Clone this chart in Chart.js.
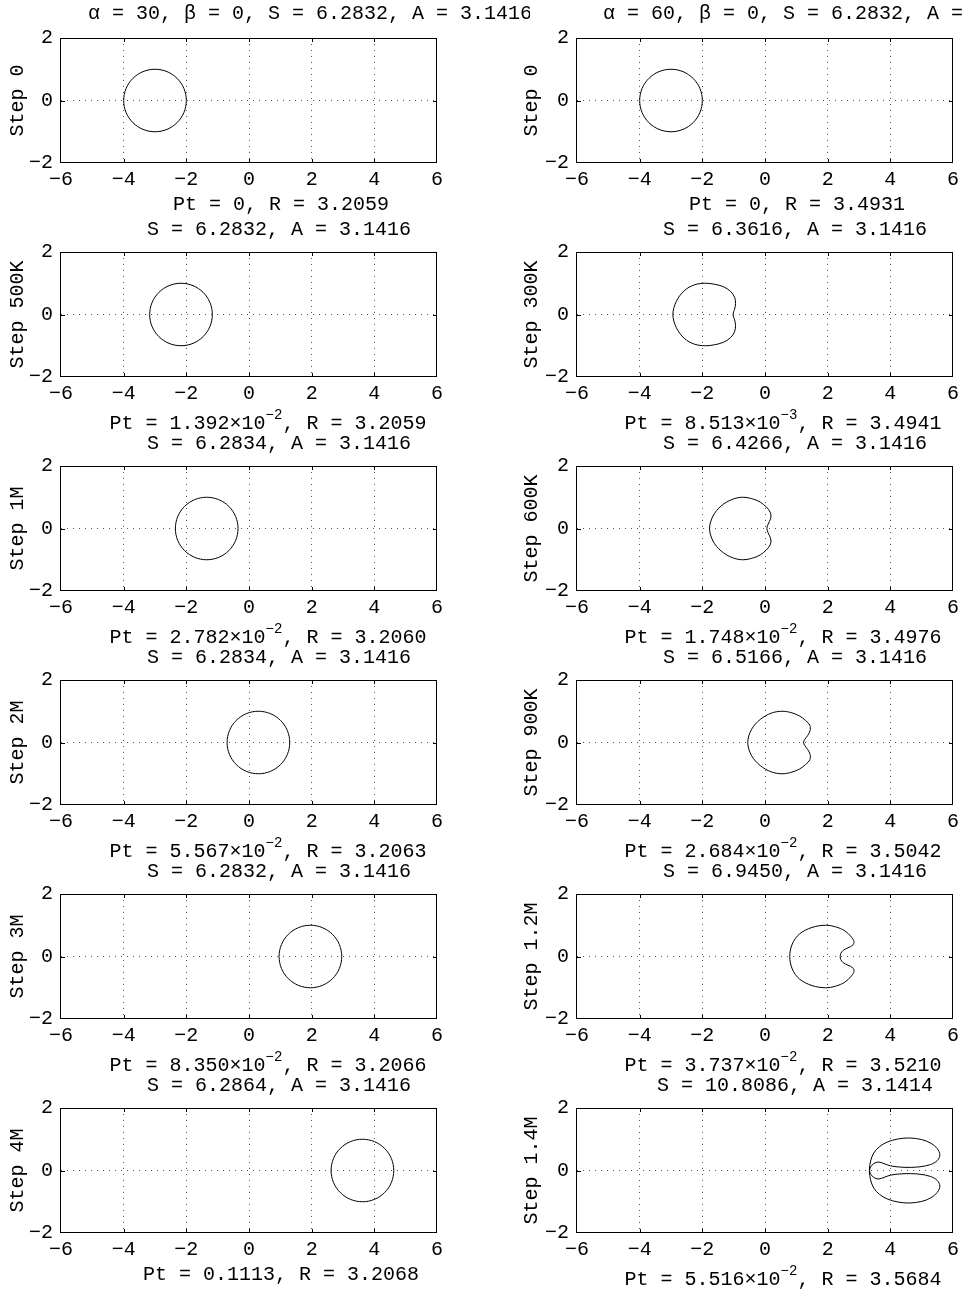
<!DOCTYPE html>
<html>
<head>
<meta charset="utf-8">
<script src="https://cdn.jsdelivr.net/npm/chart.js@4.4.1/dist/chart.umd.min.js"></script>
<style>
  body { margin: 0; background: #fff; }
  #page { position: relative; width: 972px; height: 1293px; overflow: hidden; background: #fff; }
  #page canvas { position: absolute; }
</style>
</head>
<body>
<div id="page"></div>
<script>
// axis ticks
var xTicks = [-6, -4, -2, 0, 2, 4, 6];
var yTicks = [-2, 0, 2];

// left column: alpha = 30
var leftSteps = ["Step 0", "Step 500K", "Step 1M", "Step 2M", "Step 3M", "Step 4M"];
var leftS = ["6.2832", "6.2832", "6.2834", "6.2834", "6.2832", "6.2864"];
var leftA = ["3.1416", "3.1416", "3.1416", "3.1416", "3.1416", "3.1416"];
var leftPtMant = ["0", "1.392", "2.782", "5.567", "8.350", "0.1113"];
var leftPtExp = [null, "\u22122", "\u22122", "\u22122", "\u22122", null];
var leftR = ["3.2059", "3.2059", "3.2060", "3.2063", "3.2066", "3.2068"];

// right column: alpha = 60
var rightSteps = ["Step 0", "Step 300K", "Step 600K", "Step 900K", "Step 1.2M", "Step 1.4M"];
var rightS = ["6.2832", "6.3616", "6.4266", "6.5166", "6.9450", "10.8086"];
var rightA = ["3.1416", "3.1416", "3.1416", "3.1416", "3.1416", "3.1414"];
var rightPtMant = ["0", "8.513", "1.748", "2.684", "3.737", "5.516"];
var rightPtExp = [null, "\u22123", "\u22122", "\u22122", "\u22122", "\u22122"];
var rightR = ["3.4931", "3.4941", "3.4976", "3.5042", "3.5210", "3.5684"];

// curve outlines, [x, y], closed (last joins first)
var a30_0 = [[-2,0],[-2.076,0.383],[-2.293,0.707],[-2.617,0.924],[-3,1],[-3.383,0.924],[-3.707,0.707],[-3.924,0.383],[-4,0],[-3.924,-0.383],[-3.707,-0.707],[-3.383,-0.924],[-3,-1],[-2.617,-0.924],[-2.293,-0.707],[-2.076,-0.383]];
var a30_500k = [[-1.17,0],[-1.246,0.383],[-1.463,0.707],[-1.787,0.924],[-2.17,1],[-2.553,0.924],[-2.877,0.707],[-3.094,0.383],[-3.17,0],[-3.094,-0.383],[-2.877,-0.707],[-2.553,-0.924],[-2.17,-1],[-1.787,-0.924],[-1.463,-0.707],[-1.246,-0.383]];
var a30_1m = [[-0.35,0],[-0.426,0.383],[-0.643,0.707],[-0.967,0.924],[-1.35,1],[-1.733,0.924],[-2.057,0.707],[-2.274,0.383],[-2.35,0],[-2.274,-0.383],[-2.057,-0.707],[-1.733,-0.924],[-1.35,-1],[-0.967,-0.924],[-0.643,-0.707],[-0.426,-0.383]];
var a30_2m = [[1.3,0],[1.224,0.383],[1.007,0.707],[0.683,0.924],[0.3,1],[-0.083,0.924],[-0.407,0.707],[-0.624,0.383],[-0.7,0],[-0.624,-0.383],[-0.407,-0.707],[-0.083,-0.924],[0.3,-1],[0.683,-0.924],[1.007,-0.707],[1.224,-0.383]];
var a30_3m = [[2.96,0],[2.884,0.383],[2.667,0.707],[2.343,0.924],[1.96,1],[1.577,0.924],[1.253,0.707],[1.036,0.383],[0.96,0],[1.036,-0.383],[1.253,-0.707],[1.577,-0.924],[1.96,-1],[2.343,-0.924],[2.667,-0.707],[2.884,-0.383]];
var a30_4m = [[4.62,0],[4.544,0.383],[4.327,0.707],[4.003,0.924],[3.62,1],[3.237,0.924],[2.913,0.707],[2.696,0.383],[2.62,0],[2.696,-0.383],[2.913,-0.707],[3.237,-0.924],[3.62,-1],[4.003,-0.924],[4.327,-0.707],[4.544,-0.383]];

var a60_0 = [[-2,0],[-2.076,0.383],[-2.293,0.707],[-2.617,0.924],[-3,1],[-3.383,0.924],[-3.707,0.707],[-3.924,0.383],[-4,0],[-3.924,-0.383],[-3.707,-0.707],[-3.383,-0.924],[-3,-1],[-2.617,-0.924],[-2.293,-0.707],[-2.076,-0.383]];
var a60_300k = [[-1.02,0],[-0.97,0.17],[-0.94,0.35],[-0.97,0.55],[-1.1,0.74],[-1.33,0.89],[-1.62,0.97],[-1.9,1],[-2.25,0.95],[-2.58,0.76],[-2.83,0.42],[-2.94,0],
  [-2.83,-0.42],[-2.58,-0.76],[-2.25,-0.95],[-1.9,-1],[-1.62,-0.97],[-1.33,-0.89],[-1.1,-0.74],[-0.97,-0.55],[-0.94,-0.35],[-0.97,-0.17]];
var a60_600k = [[0.06,0],[0.1,0.14],[0.17,0.29],[0.19,0.44],[0.12,0.6],[-0.05,0.77],[-0.26,0.9],[-0.68,1],[-1.05,0.93],[-1.4,0.72],[-1.66,0.4],[-1.77,0],
  [-1.66,-0.4],[-1.4,-0.72],[-1.05,-0.93],[-0.68,-1],[-0.26,-0.9],[-0.05,-0.77],[0.12,-0.6],[0.19,-0.44],[0.17,-0.29],[0.1,-0.14]];
var a60_900k = [[1.23,0],[1.27,0.1],[1.36,0.22],[1.44,0.38],[1.43,0.55],[1.3,0.7],[1.1,0.85],[0.82,0.96],[0.54,1],[0.2,0.94],[-0.15,0.74],[-0.43,0.42],[-0.55,0],
  [-0.43,-0.42],[-0.15,-0.74],[0.2,-0.94],[0.54,-1],[0.82,-0.96],[1.1,-0.85],[1.3,-0.7],[1.43,-0.55],[1.44,-0.38],[1.36,-0.22],[1.27,-0.1]];
var a60_1200k = [[2.4,0],[2.42,0.1],[2.5,0.2],[2.65,0.28],[2.8,0.36],[2.84,0.48],[2.76,0.62],[2.55,0.82],[2.25,0.95],[1.93,1],[1.5,0.93],[1.1,0.72],[0.87,0.4],[0.79,0],
  [0.87,-0.4],[1.1,-0.72],[1.5,-0.93],[1.93,-1],[2.25,-0.95],[2.55,-0.82],[2.76,-0.62],[2.84,-0.48],[2.8,-0.36],[2.65,-0.28],[2.5,-0.2],[2.42,-0.1]];
var a60_1400k = [[3.33,0],[3.37,0.3],[3.47,0.56],[3.65,0.76],[3.9,0.91],[4.25,1.01],[4.62,1.04],[5,0.99],[5.3,0.87],[5.5,0.7],[5.58,0.5],[5.5,0.32],[5.28,0.19],[4.95,0.12],[4.64,0.1],[4.3,0.11],[4,0.15],[3.8,0.22],[3.64,0.27],[3.5,0.24],[3.39,0.14],[3.34,0],
  [3.39,-0.14],[3.5,-0.24],[3.64,-0.27],[3.8,-0.22],[4,-0.15],[4.3,-0.11],[4.64,-0.1],[4.95,-0.12],[5.28,-0.19],[5.5,-0.32],[5.58,-0.5],[5.5,-0.7],[5.3,-0.87],[5,-0.99],[4.62,-1.04],[4.25,-1.01],[3.9,-0.91],[3.65,-0.76],[3.47,-0.56],[3.37,-0.3]];

var leftCurves = [a30_0, a30_500k, a30_1m, a30_2m, a30_3m, a30_4m];
var rightCurves = [a60_0, a60_300k, a60_600k, a60_900k, a60_1200k, a60_1400k];

var FONT = "'Liberation Mono', 'Courier New', monospace";
var ROW_H = 214, CANVAS_H = 232, PLOT_TOP = 38, PLOT_BOTTOM = 163;

var columns = [
  { left: 0, width: 530, plotLeft: 61, plotRight: 437, head: "\u03b1 = 30, \u03b2 = 0, ", headX: 88,
    titleX: 279, labelX: 281, labelExpX: 268, stepX: 18,
    steps: leftSteps, S: leftS, A: leftA, mant: leftPtMant, exp: leftPtExp, R: leftR, curves: leftCurves },
  { left: 486, width: 486, plotLeft: 91, plotRight: 467, head: "\u03b1 = 60, \u03b2 = 0, ", headX: 117,
    titleX: 309, labelX: 311, labelExpX: 297, stepX: 46,
    steps: rightSteps, S: rightS, A: rightA, mant: rightPtMant, exp: rightPtExp, R: rightR, curves: rightCurves }
];

function minus(v) {
  return v < 0 ? "\u2212" + Math.abs(v) : String(v);
}

// repeat neighbours at both ends so the spline closes smoothly
function closedPoints(pts) {
  var list = [pts[pts.length - 1]].concat(pts, [pts[0], pts[1]]);
  return list.map(function (p) { return { x: p[0], y: p[1] }; });
}

function panelPlugin(col, row) {
  return {
    id: "panel",
    afterDraw: function (chart) {
      var ctx = chart.ctx, a = chart.chartArea;
      var xs = chart.scales.x, ys = chart.scales.y;
      ctx.save();
      // box and inward ticks
      ctx.strokeStyle = "#000";
      ctx.lineWidth = 1;
      ctx.strokeRect(a.left - 0.5, a.top + 0.5, a.right - a.left, a.bottom - a.top - 1);
      ctx.beginPath();
      xTicks.slice(1, -1).forEach(function (v) {
        var px = Math.round(xs.getPixelForValue(v)) + 0.5;
        ctx.moveTo(px, a.top); ctx.lineTo(px, a.top + 4);
        ctx.moveTo(px, a.bottom); ctx.lineTo(px, a.bottom - 4);
      });
      yTicks.slice(1, -1).forEach(function (v) {
        var py = Math.round(ys.getPixelForValue(v)) + 0.5;
        ctx.moveTo(a.left, py); ctx.lineTo(a.left + 4, py);
        ctx.moveTo(a.right, py); ctx.lineTo(a.right - 4, py);
      });
      ctx.stroke();

      ctx.fillStyle = "#000";
      ctx.font = "20px " + FONT;
      ctx.textBaseline = "middle";
      // title above
      var title = "S = " + col.S[row] + ", A = " + col.A[row];
      if (row === 0) {
        ctx.textAlign = "left";
        ctx.fillText(col.head + title, col.headX, 14);
      } else {
        ctx.textAlign = "center";
        ctx.fillText(title, col.titleX, 16);
      }
      // label below
      var tail = ", R = " + col.R[row];
      if (!col.exp[row]) {
        ctx.textAlign = "center";
        ctx.fillText("Pt = " + col.mant[row] + tail, col.labelX, 205);
      } else {
        var base = "Pt = " + col.mant[row] + "\u00d710";
        ctx.font = "20px " + FONT;
        var wb = ctx.measureText(base).width, wt = ctx.measureText(tail).width;
        ctx.font = "14px " + FONT;
        var we = ctx.measureText(col.exp[row]).width;
        var x0 = col.labelExpX - (wb + we + wt) / 2;
        ctx.textAlign = "left";
        ctx.font = "20px " + FONT;
        ctx.fillText(base, x0, 210);
        ctx.font = "14px " + FONT;
        ctx.fillText(col.exp[row], x0 + wb, 201);
        ctx.font = "20px " + FONT;
        ctx.fillText(tail, x0 + wb + we, 210);
      }
      // y label
      ctx.translate(col.stepX, (PLOT_TOP + PLOT_BOTTOM) / 2);
      ctx.rotate(-Math.PI / 2);
      ctx.textAlign = "center";
      ctx.fillText(col.steps[row], 0, 0);
      ctx.restore();
    }
  };
}

var page = document.getElementById("page");

columns.forEach(function (col) {
  for (var row = 0; row < 6; row++) {
    var canvas = document.createElement("canvas");
    canvas.width = col.width;
    canvas.height = CANVAS_H;
    canvas.style.left = col.left + "px";
    canvas.style.top = row * ROW_H + "px";
    page.appendChild(canvas);

    var pts = closedPoints(col.curves[row]);
    var last = pts.length - 1;

    new Chart(canvas.getContext("2d"), {
      type: "line",
      data: {
        datasets: [{
          data: pts,
          borderColor: "#000",
          borderWidth: 1,
          pointRadius: 0,
          tension: 0.34,
          fill: false,
          segment: {
            borderColor: function (c) {
              return (c.p0DataIndex === 0 || c.p1DataIndex === last) ? "rgba(0,0,0,0)" : undefined;
            }
          }
        }]
      },
      options: {
        responsive: false,
        animation: false,
        events: [],
        layout: { padding: { left: 0, right: col.width - col.plotRight, top: PLOT_TOP, bottom: 0 } },
        plugins: { legend: { display: false }, tooltip: { enabled: false } },
        scales: {
          x: {
            type: "linear",
            min: -6, max: 6,
            afterFit: function (s) { s.height = CANVAS_H - PLOT_BOTTOM; },
            afterBuildTicks: function (s) { s.ticks = xTicks.map(function (v) { return { value: v }; }); },
            ticks: { color: "#000", font: { family: FONT, size: 20 }, padding: 5, maxRotation: 0, callback: minus },
            grid: {
              drawTicks: false,
              lineWidth: 1,
              color: function (c) { return c.tick && Math.abs(c.tick.value) === 6 ? "rgba(0,0,0,0)" : "#555"; }
            },
            border: { display: false, dash: [1, 5] }
          },
          y: {
            min: -2, max: 2,
            afterFit: function (s) { s.width = col.plotLeft; },
            afterBuildTicks: function (s) { s.ticks = yTicks.map(function (v) { return { value: v }; }); },
            ticks: { color: "#000", font: { family: FONT, size: 20 }, padding: 8, callback: minus },
            grid: {
              drawTicks: false,
              lineWidth: 1,
              color: function (c) { return c.tick && Math.abs(c.tick.value) === 2 ? "rgba(0,0,0,0)" : "#555"; }
            },
            border: { display: false, dash: [1, 5] }
          }
        }
      },
      plugins: [panelPlugin(col, row)]
    });
  }
});
</script>
</body>
</html>
